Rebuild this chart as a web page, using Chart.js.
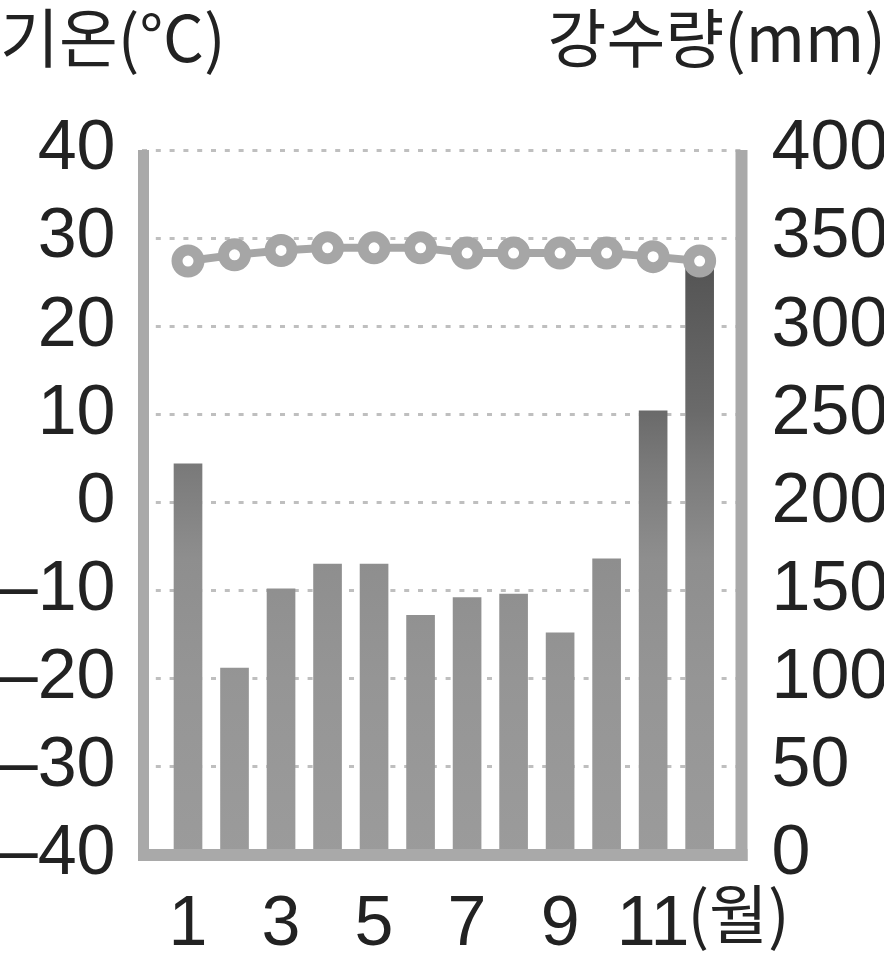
<!DOCTYPE html>
<html>
<head>
<meta charset="utf-8">
<script src="https://cdn.jsdelivr.net/npm/chart.js@4.4.0/dist/chart.umd.min.js"></script>
<style>
  html, body { margin: 0; padding: 0; background: #fff; }
  canvas { display: block; }
</style>
</head>
<body>
<canvas id="climateChart" width="884" height="954"></canvas>
<script>
// monthly values
var months = [1, 2, 3, 4, 5, 6, 7, 8, 9, 10, 11, 12];
var rainfall = [222, 106, 151, 165, 165, 136, 146, 148, 126, 168, 252, 335];
var temperature = [27.4, 28.1, 28.6, 28.9, 28.9, 28.9, 28.3, 28.3, 28.3, 28.3, 27.9, 27.4];

var monthTicks = [1, 3, 5, 7, 9, 11];
var tempTicks = [-40, -30, -20, -10, 0, 10, 20, 30, 40];
var rainTicks = [0, 50, 100, 150, 200, 250, 300, 350, 400];

var tempTitle = '기온(°C)';
var rainTitle = '강수량(mm)';
var monthUnit = '(월)';

var frameColor = '#a9a9a9';
var tickFont = { family: '"Liberation Sans", Arial, sans-serif', size: 70 };
var titleFont = '64px "Noto Sans CJK KR", sans-serif';

function toPoints(values) {
    return months.map(function (m, i) {
        return { x: m, y: values[i] };
    });
}

function barFill(c) {
    var area = c.chart.chartArea;
    if (!area) {
        return '#8f8f8f';
    }
    var g = c.chart.ctx.createLinearGradient(0, area.top, 0, area.bottom);
    g.addColorStop(0, '#474747');
    g.addColorStop(0.16, '#545454');
    g.addColorStop(0.37, '#6a6a6a');
    g.addColorStop(0.45, '#7a7a7a');
    g.addColorStop(0.58, '#8e8e8e');
    g.addColorStop(0.75, '#959595');
    g.addColorStop(1, '#9b9b9b');
    return g;
}

// thick frame drawn right after the bars so it covers their feet
var framePlugin = {
    id: 'frame',
    afterDatasetDraw: function (chart, args) {
        if (args.index !== 0) return;
        var a = chart.chartArea;
        var ctx = chart.ctx;
        var left = a.left + 2;
        var right = a.right;
        var bottom = a.bottom;
        ctx.save();
        ctx.fillStyle = frameColor;
        ctx.fillRect(left - 5.5, a.top, 11, bottom - a.top + 6);
        ctx.fillRect(right - 6, a.top, 12, bottom - a.top + 6);
        ctx.fillRect(left - 5.5, bottom - 6, right - left + 11.5, 12);
        ctx.restore();
    }
};

var titlePlugin = {
    id: 'titles',
    afterDraw: function (chart) {
        var ctx = chart.ctx;
        ctx.save();
        ctx.fillStyle = '#222';
        ctx.font = titleFont;
        ctx.textBaseline = 'middle';
        ctx.textAlign = 'left';
        ctx.fillText(tempTitle, 0, 38);
        ctx.textAlign = 'right';
        ctx.fillText(rainTitle, 886, 38);

        // unit after the last month label
        var x = chart.scales.x;
        var last = monthTicks[monthTicks.length - 1];
        ctx.font = tickFont.size + 'px ' + tickFont.family;
        var w = ctx.measureText(String(last)).width;
        ctx.font = titleFont;
        ctx.textAlign = 'left';
        ctx.fillText(monthUnit, x.getPixelForValue(last) + w / 2 - 2, 914);
        ctx.restore();
    }
};

var ctx = document.getElementById('climateChart');

new Chart(ctx, {
    type: 'bar',
    data: {
        datasets: [{
            type: 'bar',
            label: rainTitle,
            data: toPoints(rainfall),
            yAxisID: 'yRain',
            backgroundColor: barFill,
            barThickness: 28,
            order: 1
        }, {
            type: 'line',
            label: tempTitle,
            data: toPoints(temperature),
            yAxisID: 'yTemp',
            borderColor: '#a6a6a6',
            borderWidth: 8,
            pointRadius: 11,
            pointBorderWidth: 11,
            pointBorderColor: '#a6a6a6',
            pointBackgroundColor: '#ffffff',
            tension: 0,
            order: 0
        }]
    },
    options: {
        responsive: false,
        animation: false,
        devicePixelRatio: 1,
        layout: { padding: { top: 150, left: 0, right: 0, bottom: 0 } },
        plugins: {
            legend: { display: false },
            tooltip: { enabled: false }
        },
        scales: {
            x: {
                type: 'linear',
                offset: false,
                min: 0,
                max: 12.9,
                afterBuildTicks: function (scale) {
                    scale.ticks = monthTicks.map(function (v) { return { value: v }; });
                },
                afterFit: function (scale) { scale.height = 99; },
                grid: { display: false },
                border: { display: false },
                ticks: {
                    color: '#222',
                    font: tickFont,
                    padding: 21,
                    maxRotation: 0,
                    autoSkip: false,
                    callback: function (v) { return String(v); }
                }
            },
            yTemp: {
                position: 'left',
                min: -40,
                max: 40,
                afterBuildTicks: function (scale) {
                    scale.ticks = tempTicks.map(function (v) { return { value: v }; });
                },
                afterFit: function (scale) { scale.width = 141.5; },
                // v4 takes the grid dash from the border options
                border: { display: false, dash: [5, 8.8] },
                grid: {
                    drawTicks: false,
                    lineWidth: 3,
                    color: function (c) {
                        return c.tick && c.tick.value === -40 ? 'rgba(0,0,0,0)' : '#bfbfbf';
                    }
                },
                ticks: {
                    color: '#222',
                    font: tickFont,
                    padding: 26,
                    callback: function (v) {
                        return v < 0 ? '\u2013' + Math.abs(v) : String(v);
                    }
                }
            },
            yRain: {
                position: 'right',
                min: 0,
                max: 400,
                afterBuildTicks: function (scale) {
                    scale.ticks = rainTicks.map(function (v) { return { value: v }; });
                },
                afterFit: function (scale) { scale.width = 142.5; },
                border: { display: false },
                grid: { display: false, drawTicks: false },
                ticks: {
                    color: '#222',
                    font: tickFont,
                    padding: 30
                }
            }
        }
    },
    plugins: [framePlugin, titlePlugin]
});
</script>
</body>
</html>
